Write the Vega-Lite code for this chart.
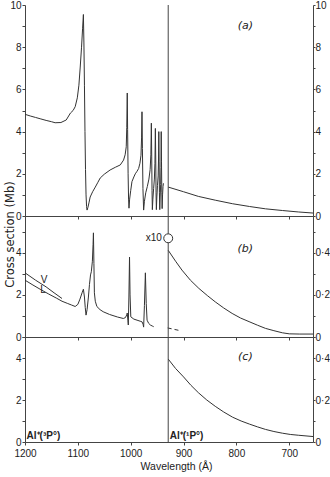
{
  "$schema": "https://vega.github.io/schema/vega-lite/v6.json",
  "padding": {"left": 3, "top": 0, "right": 0, "bottom": 0},
  "background": "white",
  "spacing": 0,
  "bounds": "flush",
  "config": {
    "view": {"stroke": null},
    "font": "Liberation Sans, sans-serif",
    "axis": {
      "domainColor": "#444", "tickColor": "#444", "labelColor": "#222", "titleColor": "#222",
      "labelFont": "Liberation Sans, sans-serif",
      "titleFont": "DejaVu Sans, sans-serif",
      "labelFontSize": 10, "titleFontSize": 11, "titleFontWeight": "normal",
      "tickSize": 3, "labelPadding": 1, "grid": false, "domainWidth": 1, "tickWidth": 1, "labelFlush": false
    },
    "line": {"stroke": "#333", "strokeWidth": 1}
  },
  "datasets": {
    "a_left": [
      {"wl": 1200, "cs": 4.82}, {"wl": 1190, "cs": 4.74}, {"wl": 1180, "cs": 4.67}, {"wl": 1170, "cs": 4.6},
      {"wl": 1160, "cs": 4.53}, {"wl": 1150, "cs": 4.47}, {"wl": 1143, "cs": 4.42}, {"wl": 1132, "cs": 4.43},
      {"wl": 1122, "cs": 4.55}, {"wl": 1114, "cs": 4.88}, {"wl": 1109, "cs": 5.0}, {"wl": 1105, "cs": 5.18},
      {"wl": 1101, "cs": 5.6}, {"wl": 1098, "cs": 6.2}, {"wl": 1095.5, "cs": 7.06}, {"wl": 1093, "cs": 8.0},
      {"wl": 1091, "cs": 8.9}, {"wl": 1089.5, "cs": 9.55}, {"wl": 1088.5, "cs": 8.2}, {"wl": 1087.5, "cs": 6.2},
      {"wl": 1086.5, "cs": 4.0}, {"wl": 1085.5, "cs": 2.2}, {"wl": 1084.5, "cs": 1.0}, {"wl": 1083.5, "cs": 0.45},
      {"wl": 1082.5, "cs": 0.28}, {"wl": 1081, "cs": 0.4}, {"wl": 1079, "cs": 0.62}, {"wl": 1076.7, "cs": 0.9},
      {"wl": 1072, "cs": 1.15}, {"wl": 1067, "cs": 1.37}, {"wl": 1062, "cs": 1.6}, {"wl": 1057.7, "cs": 1.8},
      {"wl": 1050, "cs": 1.98}, {"wl": 1039, "cs": 2.18}, {"wl": 1029, "cs": 2.31}, {"wl": 1019.7, "cs": 2.42},
      {"wl": 1013.5, "cs": 2.65}, {"wl": 1010.5, "cs": 2.9}, {"wl": 1008.4, "cs": 3.28}, {"wl": 1007.4, "cs": 4.2},
      {"wl": 1006.5, "cs": 5.83}, {"wl": 1005.8, "cs": 4.1}, {"wl": 1004.9, "cs": 2.0}, {"wl": 1004, "cs": 0.8},
      {"wl": 1003.2, "cs": 0.37}, {"wl": 1002, "cs": 0.8}, {"wl": 1000, "cs": 1.2}, {"wl": 997.6, "cs": 1.63},
      {"wl": 994, "cs": 1.85}, {"wl": 991.3, "cs": 2.0}, {"wl": 988, "cs": 2.12}, {"wl": 985, "cs": 2.25},
      {"wl": 982.5, "cs": 2.5}, {"wl": 980.5, "cs": 2.88}, {"wl": 979.4, "cs": 3.7}, {"wl": 978.6, "cs": 4.94},
      {"wl": 977.8, "cs": 3.2}, {"wl": 976.8, "cs": 1.3}, {"wl": 975.5, "cs": 0.28}, {"wl": 974, "cs": 0.7},
      {"wl": 971.5, "cs": 1.1}, {"wl": 968.5, "cs": 1.4}, {"wl": 965.5, "cs": 1.75}, {"wl": 963.2, "cs": 2.2},
      {"wl": 961.8, "cs": 2.9}, {"wl": 960.9, "cs": 4.4}, {"wl": 960.2, "cs": 2.8}, {"wl": 959.6, "cs": 1.2},
      {"wl": 959.0, "cs": 0.3}, {"wl": 958.0, "cs": 0.8}, {"wl": 956.6, "cs": 1.3}, {"wl": 955.2, "cs": 1.75},
      {"wl": 954.1, "cs": 2.5}, {"wl": 953.3, "cs": 4.15}, {"wl": 952.6, "cs": 2.7}, {"wl": 952.0, "cs": 1.1},
      {"wl": 951.4, "cs": 0.3}, {"wl": 950.5, "cs": 0.9}, {"wl": 949.3, "cs": 1.45}, {"wl": 948.0, "cs": 1.9},
      {"wl": 947.3, "cs": 2.7}, {"wl": 946.8, "cs": 4.0}, {"wl": 946.2, "cs": 2.6}, {"wl": 945.6, "cs": 1.1},
      {"wl": 945.0, "cs": 0.3}, {"wl": 944.2, "cs": 0.9}, {"wl": 943.3, "cs": 1.5}, {"wl": 942.7, "cs": 2.3},
      {"wl": 942.2, "cs": 4.0}, {"wl": 941.7, "cs": 2.6}, {"wl": 941.1, "cs": 1.1}, {"wl": 940.5, "cs": 0.35},
      {"wl": 939.7, "cs": 1.0}, {"wl": 938.8, "cs": 1.4}, {"wl": 938.0, "cs": 1.55}
    ],
    "a_right": [
      {"wl": 929, "cs": 1.37}, {"wl": 900, "cs": 1.15}, {"wl": 872, "cs": 0.93}, {"wl": 840, "cs": 0.75},
      {"wl": 807, "cs": 0.58}, {"wl": 775, "cs": 0.45}, {"wl": 745, "cs": 0.34}, {"wl": 713, "cs": 0.26},
      {"wl": 682, "cs": 0.19}, {"wl": 655, "cs": 0.14}
    ],
    "b_L": [
      {"wl": 1200, "cs": 2.7}, {"wl": 1185, "cs": 2.47}, {"wl": 1170, "cs": 2.25}, {"wl": 1155, "cs": 2.04},
      {"wl": 1140, "cs": 1.84}, {"wl": 1130, "cs": 1.7}, {"wl": 1120, "cs": 1.6}, {"wl": 1112, "cs": 1.52},
      {"wl": 1105, "cs": 1.45}, {"wl": 1100, "cs": 1.55}, {"wl": 1096, "cs": 1.8}, {"wl": 1092, "cs": 2.1},
      {"wl": 1089.5, "cs": 2.27}, {"wl": 1087.5, "cs": 1.9}, {"wl": 1086, "cs": 1.4}, {"wl": 1084.5, "cs": 1.04},
      {"wl": 1082.5, "cs": 1.3}, {"wl": 1080, "cs": 1.9}, {"wl": 1078, "cs": 2.5}, {"wl": 1076, "cs": 2.95},
      {"wl": 1074.5, "cs": 3.1}, {"wl": 1072.5, "cs": 3.6}, {"wl": 1071.2, "cs": 4.4}, {"wl": 1070.5, "cs": 4.95},
      {"wl": 1069.6, "cs": 3.5}, {"wl": 1068.7, "cs": 2.1}, {"wl": 1067, "cs": 1.7}, {"wl": 1064, "cs": 1.45},
      {"wl": 1058, "cs": 1.3}, {"wl": 1052, "cs": 1.2}, {"wl": 1040, "cs": 1.07}, {"wl": 1025, "cs": 0.95},
      {"wl": 1014, "cs": 0.88}, {"wl": 1010, "cs": 0.92}, {"wl": 1007.5, "cs": 1.05}, {"wl": 1006.5, "cs": 1.14},
      {"wl": 1005.3, "cs": 0.8}, {"wl": 1004.5, "cs": 0.57}, {"wl": 1003.4, "cs": 1.9}, {"wl": 1002.2, "cs": 3.8},
      {"wl": 1001.2, "cs": 2.0}, {"wl": 999.8, "cs": 0.96}, {"wl": 994, "cs": 0.85}, {"wl": 988, "cs": 0.8},
      {"wl": 982, "cs": 0.75}, {"wl": 978.5, "cs": 0.72}, {"wl": 976.5, "cs": 0.6}, {"wl": 975.5, "cs": 0.47},
      {"wl": 974, "cs": 1.5}, {"wl": 972.2, "cs": 3.05}, {"wl": 970.6, "cs": 1.6}, {"wl": 969, "cs": 0.8},
      {"wl": 966, "cs": 0.65}, {"wl": 962.8, "cs": 0.57}, {"wl": 959, "cs": 0.52}, {"wl": 956.5, "cs": 0.49}
    ],
    "b_V": [
      {"wl": 1200, "cs": 3.05}, {"wl": 1180, "cs": 2.7}, {"wl": 1160, "cs": 2.38}, {"wl": 1145, "cs": 2.1},
      {"wl": 1130, "cs": 1.83}
    ],
    "b_dash": [
      {"wl": 930, "cs": 0.43}, {"wl": 906, "cs": 0.3}
    ],
    "b_right": [
      {"wl": 929, "cs": 0.412}, {"wl": 915, "cs": 0.36}, {"wl": 903, "cs": 0.318}, {"wl": 887, "cs": 0.27},
      {"wl": 871, "cs": 0.231}, {"wl": 855, "cs": 0.197}, {"wl": 840, "cs": 0.167}, {"wl": 824, "cs": 0.138},
      {"wl": 808, "cs": 0.112}, {"wl": 792, "cs": 0.09}, {"wl": 776, "cs": 0.073}, {"wl": 760, "cs": 0.056},
      {"wl": 745, "cs": 0.041}, {"wl": 729, "cs": 0.03}, {"wl": 713, "cs": 0.02}, {"wl": 700, "cs": 0.015},
      {"wl": 680, "cs": 0.014}, {"wl": 655, "cs": 0.014}
    ],
    "c_right": [
      {"wl": 929, "cs": 0.395}, {"wl": 915, "cs": 0.35}, {"wl": 900, "cs": 0.31}, {"wl": 886, "cs": 0.27},
      {"wl": 872, "cs": 0.235}, {"wl": 856, "cs": 0.2}, {"wl": 840, "cs": 0.17}, {"wl": 824, "cs": 0.143},
      {"wl": 807, "cs": 0.118}, {"wl": 791, "cs": 0.1}, {"wl": 775, "cs": 0.085}, {"wl": 760, "cs": 0.072},
      {"wl": 745, "cs": 0.06}, {"wl": 729, "cs": 0.05}, {"wl": 713, "cs": 0.042}, {"wl": 698, "cs": 0.036},
      {"wl": 682, "cs": 0.032}, {"wl": 655, "cs": 0.026}
    ]
  },
  "vconcat": [
    {
      "width": 288, "height": 211,
      "layer": [
        {
          "data": {"name": "a_left"},
          "mark": {"type": "line"},
          "encoding": {
            "x": {"field": "wl", "type": "quantitative", "scale": {"domain": [655, 1200], "reverse": true, "nice": false, "zero": false},
                  "axis": {"values": [1200, 1100, 1000, 900, 800, 700], "labels": false, "title": null}},
            "y": {"field": "cs", "type": "quantitative", "scale": {"domain": [0, 10], "nice": false},
                  "axis": {"orient": "left", "title": null, "values": [0,1,2,3,4,5,6,7,8,9,10], "labelExpr": "datum.value % 2 == 0 ? datum.label : ''"}}
          }
        },
        {
          "data": {"name": "a_right"},
          "mark": {"type": "line"},
          "encoding": {
            "x": {"field": "wl", "type": "quantitative", "scale": {"domain": [655, 1200], "reverse": true, "nice": false, "zero": false}},
            "y": {"field": "cs", "type": "quantitative", "scale": {"domain": [0, 10], "nice": false},
                  "axis": {"orient": "right", "title": null, "values": [0,1,2,3,4,5,6,7,8,9,10], "labelExpr": "datum.value % 2 == 0 ? datum.label : ''", "labelPadding": 0, "tickSize": 2}}
          }
        },
        {
          "data": {"values": [{}]},
          "mark": {"type": "rule", "stroke": "#444", "strokeWidth": 1},
          "encoding": {"x": {"datum": 929, "type": "quantitative", "scale": {"domain": [655, 1200], "reverse": true, "nice": false, "zero": false}}}
        },
        {
          "data": {"values": [{}]},
          "mark": {"type": "text", "fontStyle": "italic", "fontSize": 11, "color": "#222", "font": "DejaVu Sans"},
          "encoding": {
            "x": {"datum": 783, "type": "quantitative", "scale": {"domain": [655, 1200], "reverse": true, "nice": false, "zero": false}},
            "y": {"datum": 9.0, "type": "quantitative", "scale": {"domain": [0, 10], "nice": false}, "axis": null},
            "text": {"value": "(a)"}
          }
        }
      ],
      "resolve": {"scale": {"y": "independent"}, "axis": {"y": "independent"}}
    },
    {
      "width": 288, "height": 121,
      "layer": [
        {
          "data": {"name": "b_L"},
          "mark": {"type": "line"},
          "encoding": {
            "x": {"field": "wl", "type": "quantitative", "scale": {"domain": [655, 1200], "reverse": true, "nice": false, "zero": false},
                  "axis": {"values": [1200, 1100, 1000, 900, 800, 700], "labels": false, "title": null}},
            "y": {"field": "cs", "type": "quantitative", "scale": {"domain": [0, 5.75], "nice": false},
                  "axis": {"orient": "left", "values": [0,1,2,3,4,5], "labelExpr": "datum.value % 2 == 0 ? datum.label : ''",
                           "title": "Cross section (Mb)", "titleFontSize": 11.5, "titleX": -10, "titleY": 18, "titleAngle": 270, "titleBaseline": "bottom", "titleAlign": "center"}}
          }
        },
        {
          "data": {"name": "b_V"},
          "mark": {"type": "line"},
          "encoding": {
            "x": {"field": "wl", "type": "quantitative", "scale": {"domain": [655, 1200], "reverse": true, "nice": false, "zero": false}},
            "y": {"field": "cs", "type": "quantitative", "scale": {"domain": [0, 5.75], "nice": false}, "axis": null}
          }
        },
        {
          "data": {"name": "b_dash"},
          "mark": {"type": "line", "strokeDash": [4, 3]},
          "encoding": {
            "x": {"field": "wl", "type": "quantitative", "scale": {"domain": [655, 1200], "reverse": true, "nice": false, "zero": false}},
            "y": {"field": "cs", "type": "quantitative", "scale": {"domain": [0, 5.75], "nice": false}, "axis": null}
          }
        },
        {
          "data": {"name": "b_right"},
          "mark": {"type": "line"},
          "encoding": {
            "x": {"field": "wl", "type": "quantitative", "scale": {"domain": [655, 1200], "reverse": true, "nice": false, "zero": false}},
            "y": {"field": "cs", "type": "quantitative", "scale": {"domain": [0, 0.575], "nice": false},
                  "axis": {"orient": "right", "title": null, "values": [0, 0.1, 0.2, 0.3, 0.4, 0.5], "labelPadding": 0, "tickSize": 2,
                           "labelExpr": "datum.value == 0 ? '0' : abs(datum.value - 0.2) < 0.01 ? '0·2' : abs(datum.value - 0.4) < 0.01 ? '0·4' : ''"}}
          }
        },
        {
          "data": {"values": [{}]},
          "mark": {"type": "rule", "stroke": "#444", "strokeWidth": 1},
          "encoding": {"x": {"datum": 929, "type": "quantitative", "scale": {"domain": [655, 1200], "reverse": true, "nice": false, "zero": false}}}
        },
        {
          "data": {"values": [{}]},
          "mark": {"type": "point", "shape": "circle", "filled": true, "fill": "white", "stroke": "#333", "strokeWidth": 1, "size": 80, "opacity": 1},
          "encoding": {
            "x": {"datum": 929, "type": "quantitative", "scale": {"domain": [655, 1200], "reverse": true, "nice": false, "zero": false}},
            "y": {"datum": 4.69, "type": "quantitative", "scale": {"domain": [0, 5.75], "nice": false}, "axis": null}
          }
        },
        {
          "data": {"values": [{}]},
          "mark": {"type": "text", "fontSize": 10, "align": "right", "baseline": "middle", "color": "#222"},
          "encoding": {
            "x": {"datum": 941, "type": "quantitative", "scale": {"domain": [655, 1200], "reverse": true, "nice": false, "zero": false}},
            "y": {"datum": 4.69, "type": "quantitative", "scale": {"domain": [0, 5.75], "nice": false}, "axis": null},
            "text": {"value": "x10"}
          }
        },
        {
          "data": {"values": [{}]},
          "mark": {"type": "text", "fontStyle": "italic", "fontSize": 11, "color": "#222", "font": "DejaVu Sans"},
          "encoding": {
            "x": {"datum": 783, "type": "quantitative", "scale": {"domain": [655, 1200], "reverse": true, "nice": false, "zero": false}},
            "y": {"datum": 4.17, "type": "quantitative", "scale": {"domain": [0, 5.75], "nice": false}, "axis": null},
            "text": {"value": "(b)"}
          }
        },
        {
          "data": {"values": [{"lab": "V", "wl": 1164, "cs": 2.72}, {"lab": "L", "wl": 1166, "cs": 2.22}]},
          "mark": {"type": "text", "fontSize": 10, "color": "#222"},
          "encoding": {
            "x": {"field": "wl", "type": "quantitative", "scale": {"domain": [655, 1200], "reverse": true, "nice": false, "zero": false}},
            "y": {"field": "cs", "type": "quantitative", "scale": {"domain": [0, 5.75], "nice": false}, "axis": null},
            "text": {"field": "lab"}
          }
        }
      ],
      "resolve": {"scale": {"y": "independent"}, "axis": {"y": "independent"}}
    },
    {
      "width": 288, "height": 105,
      "layer": [
        {
          "data": {"name": "c_right"},
          "mark": {"type": "line"},
          "encoding": {
            "x": {"field": "wl", "type": "quantitative", "scale": {"domain": [655, 1200], "reverse": true, "nice": false, "zero": false},
                  "axis": {"values": [1200, 1100, 1000, 900, 800, 700], "format": "d", "title": "Wavelength (Å)",
                           "labelPadding": 3, "titlePadding": 3, "titleX": 151, "titleFont": "Liberation Sans, sans-serif", "titleFontSize": 10.5}},
            "y": {"field": "cs", "type": "quantitative", "scale": {"domain": [0, 0.5], "nice": false},
                  "axis": {"orient": "right", "title": null, "values": [0, 0.1, 0.2, 0.3, 0.4, 0.5], "labelPadding": 0, "tickSize": 2,
                           "labelExpr": "datum.value == 0 ? '0' : abs(datum.value - 0.2) < 0.01 ? '0·2' : abs(datum.value - 0.4) < 0.01 ? '0·4' : ''"}}
          }
        },
        {
          "data": {"values": [{"lab": "Al⁺(³P°)", "wl": 1197, "cs": 0.12}]},
          "mark": {"type": "text", "fontSize": 10, "align": "left", "baseline": "alphabetic", "color": "#222", "fontWeight": "bold"},
          "encoding": {
            "x": {"field": "wl", "type": "quantitative", "scale": {"domain": [655, 1200], "reverse": true, "nice": false, "zero": false}},
            "y": {"field": "cs", "type": "quantitative", "scale": {"domain": [0, 5], "nice": false},
                  "axis": {"orient": "left", "title": null, "values": [0,1,2,3,4,5], "labelExpr": "datum.value % 2 == 0 ? datum.label : ''"}},
            "text": {"field": "lab"}
          }
        },
        {
          "data": {"values": [{"lab": "Al⁺(¹P°)", "wl": 926, "cs": 0.12}]},
          "mark": {"type": "text", "fontSize": 10, "align": "left", "baseline": "alphabetic", "color": "#222", "fontWeight": "bold"},
          "encoding": {
            "x": {"field": "wl", "type": "quantitative", "scale": {"domain": [655, 1200], "reverse": true, "nice": false, "zero": false}},
            "y": {"field": "cs", "type": "quantitative", "scale": {"domain": [0, 5], "nice": false}, "axis": null},
            "text": {"field": "lab"}
          }
        },
        {
          "data": {"values": [{}]},
          "mark": {"type": "rule", "stroke": "#444", "strokeWidth": 1},
          "encoding": {"x": {"datum": 929, "type": "quantitative", "scale": {"domain": [655, 1200], "reverse": true, "nice": false, "zero": false}}}
        },
        {
          "data": {"values": [{}]},
          "mark": {"type": "text", "fontStyle": "italic", "fontSize": 11, "color": "#222", "font": "DejaVu Sans"},
          "encoding": {
            "x": {"datum": 783, "type": "quantitative", "scale": {"domain": [655, 1200], "reverse": true, "nice": false, "zero": false}},
            "y": {"datum": 4.05, "type": "quantitative", "scale": {"domain": [0, 5], "nice": false}, "axis": null},
            "text": {"value": "(c)"}
          }
        }
      ],
      "resolve": {"scale": {"y": "independent"}, "axis": {"y": "independent"}}
    }
  ]
}
